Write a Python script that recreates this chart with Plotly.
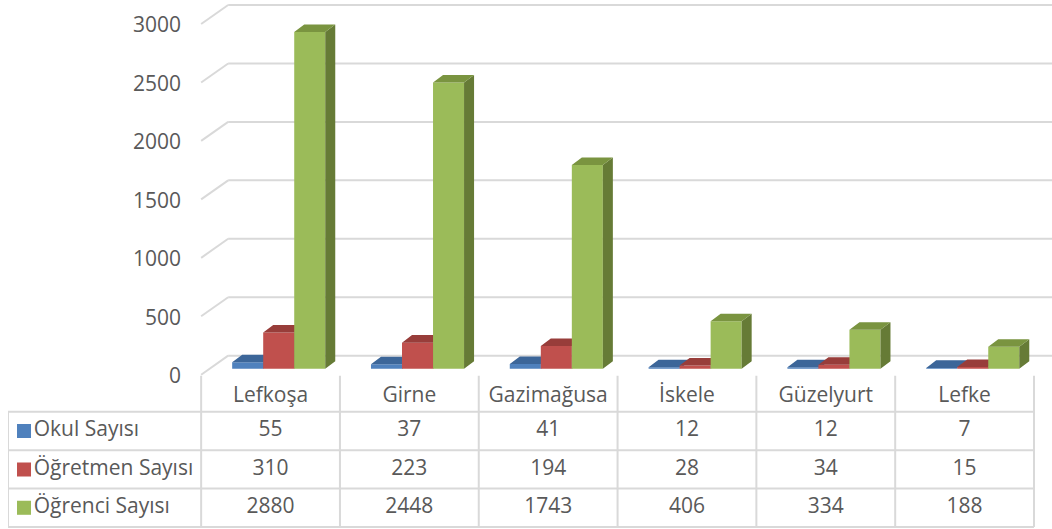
import plotly.graph_objects as go

categories = ["Lefkoşa", "Girne", "Gazimağusa", "İskele", "Güzelyurt", "Lefke"]
okul = [55, 37, 41, 12, 12, 7]
ogretmen = [310, 223, 194, 28, 34, 15]
ogrenci = [2880, 2448, 1743, 406, 334, 188]
series_names = ["Okul Sayısı", "Öğretmen Sayısı", "Öğrenci Sayısı"]
y_ticks = [0, 500, 1000, 1500, 2000, 2500, 3000]

# colours: front, top, side
front_cols = ["#4F81BD", "#C0504D", "#9BBB59"]
top_cols = ["#3C6699", "#983D3A", "#7A9440"]
side_cols = ["#2F5382", "#7E302E", "#667B36"]
grid_col = "#D9D9D9"
text_col = "#595959"
FONT = "Open Sans"
FS = 21

W, H = 1052, 529        # target picture size, domains are fractions of it
FIG_H = 538             # rendered height (picture gets squeezed back to 529)
COL_PX = 138.7          # one category column in pixels
UNIT_PX = 350 / 3000    # pixels per value unit
ROW_PX = 38.33          # table row height

# 3d look (converted to axis units)
bar_w = 31 / COL_PX
bar_off0 = -38.35 / COL_PX
ddx = 10 / COL_PX
ddy = 7.5 / UNIT_PX
back_dy = 13 / UNIT_PX
front_dy = -6 / UNIT_PX
label_dy = -7 / UNIT_PX
slant_dx = 27 / COL_PX

x_lo = -0.5 - 193 / COL_PX
x_hi = len(categories) - 0.5 + 18 / COL_PX

fig = go.Figure()

# bars, one overlaid subplot per series so the faces stack in the right order
yrefs = ["y", "y2", "y3"]
for k, vals in enumerate([okul, ogretmen, ogrenci]):
    off = bar_off0 + k * bar_w
    fig.add_trace(go.Bar(x=list(range(len(categories))), y=vals, offset=off, width=bar_w,
                         marker=dict(color=front_cols[k], line=dict(width=0)),
                         yaxis=yrefs[k], hoverinfo="skip", showlegend=False))
    tx, ty, sx, sy = [], [], [], []
    for i, v in enumerate(vals):
        x0 = i + off
        x1 = x0 + bar_w
        tx += [x0, x1, x1 + ddx, x0 + ddx, x0, None]
        ty += [v, v, v + ddy, v + ddy, v, None]
        sx += [x1, x1 + ddx, x1 + ddx, x1, x1, None]
        sy += [0, ddy, v + ddy, v, 0, None]
    fig.add_trace(go.Scatter(x=sx, y=sy, fill="toself", fillcolor=side_cols[k], mode="lines",
                             line=dict(width=0), yaxis=yrefs[k], hoverinfo="skip", showlegend=False))
    fig.add_trace(go.Scatter(x=tx, y=ty, fill="toself", fillcolor=top_cols[k], mode="lines",
                             line=dict(width=0), yaxis=yrefs[k], hoverinfo="skip", showlegend=False))

# back wall grid lines with the slanted floor/side edge
for v in y_ticks:
    fig.add_shape(type="line", xref="x", yref="y", layer="below",
                  x0=-0.5 + slant_dx, y0=v + back_dy, x1=x_hi, y1=v + back_dy,
                  line=dict(color=grid_col, width=2))
    fig.add_shape(type="line", xref="x", yref="y", layer="below",
                  x0=-0.5, y0=v + front_dy, x1=-0.5 + slant_dx, y1=v + back_dy,
                  line=dict(color=grid_col, width=2))

# data table under the chart
n = len(categories)
head_top = 3 + 36 / ROW_PX
lx, ly = [], []
for r in range(4):
    lx += [x_lo, n - 0.5, None]
    ly += [r, r, None]
lx += [x_lo, x_lo, None]
ly += [0, 3, None]
for c in range(n + 1):
    lx += [c - 0.5, c - 0.5, None]
    ly += [0, head_top, None]
fig.add_trace(go.Scatter(x=lx, y=ly, mode="lines", line=dict(color=grid_col, width=2),
                         yaxis="y4", hoverinfo="skip", showlegend=False))

fig.add_trace(go.Scatter(x=list(range(n)), y=[(3 + head_top) / 2 - 0.08] * n, mode="text",
                         text=categories, textfont=dict(family=FONT, size=FS, color=text_col),
                         yaxis="y4", hoverinfo="skip", showlegend=False))
for k, vals in enumerate([okul, ogretmen, ogrenci]):
    row_y = 2.5 - k
    fig.add_trace(go.Scatter(x=list(range(n)), y=[row_y] * n, mode="text",
                             text=[str(v) for v in vals],
                             textfont=dict(family=FONT, size=FS, color=text_col),
                             yaxis="y4", hoverinfo="skip", showlegend=False))
    fig.add_trace(go.Scatter(x=[x_lo + 16 / COL_PX], y=[row_y], mode="markers+text",
                             marker=dict(symbol="square", size=14, color=front_cols[k]),
                             text=[series_names[k]], textposition="middle right",
                             textfont=dict(family=FONT, size=FS, color=text_col),
                             yaxis="y4", hoverinfo="skip", showlegend=False))

y_rng = [-(380 - 368) / UNIT_PX, 368 / UNIT_PX]
fig.update_layout(
    width=W, height=FIG_H,
    margin=dict(l=0, r=0, t=0, b=0),
    paper_bgcolor="white", plot_bgcolor="rgba(0,0,0,0)",
    barmode="overlay",
    font=dict(family=FONT, color=text_col),
    xaxis=dict(domain=[8 / W, 1], range=[x_lo, x_hi], visible=False),
    yaxis=dict(domain=[(H - 380) / H, 1], range=y_rng, anchor="free", position=201 / W,
               tickvals=[v + label_dy for v in y_ticks], ticktext=[str(v) for v in y_ticks],
               ticks="", ticklabelstandoff=20, showgrid=False, zeroline=False, showline=False,
               tickfont=dict(family=FONT, size=FS, color=text_col)),
    yaxis2=dict(overlaying="y", range=y_rng, visible=False),
    yaxis3=dict(overlaying="y", range=y_rng, visible=False),
    yaxis4=dict(domain=[0, 156 / H], range=[-3 / ROW_PX, 153 / ROW_PX], visible=False),
)

# drop the default 8px body margin
page_fix = ("document.documentElement.style.margin='0';document.body.style.margin='0';"
            "document.body.style.padding='0';document.documentElement.style.overflow='hidden';"
            "document.body.style.overflow='hidden';")
fig.write_html("out.html", config={"displayModeBar": False, "staticPlot": True},
               post_script=page_fix)
